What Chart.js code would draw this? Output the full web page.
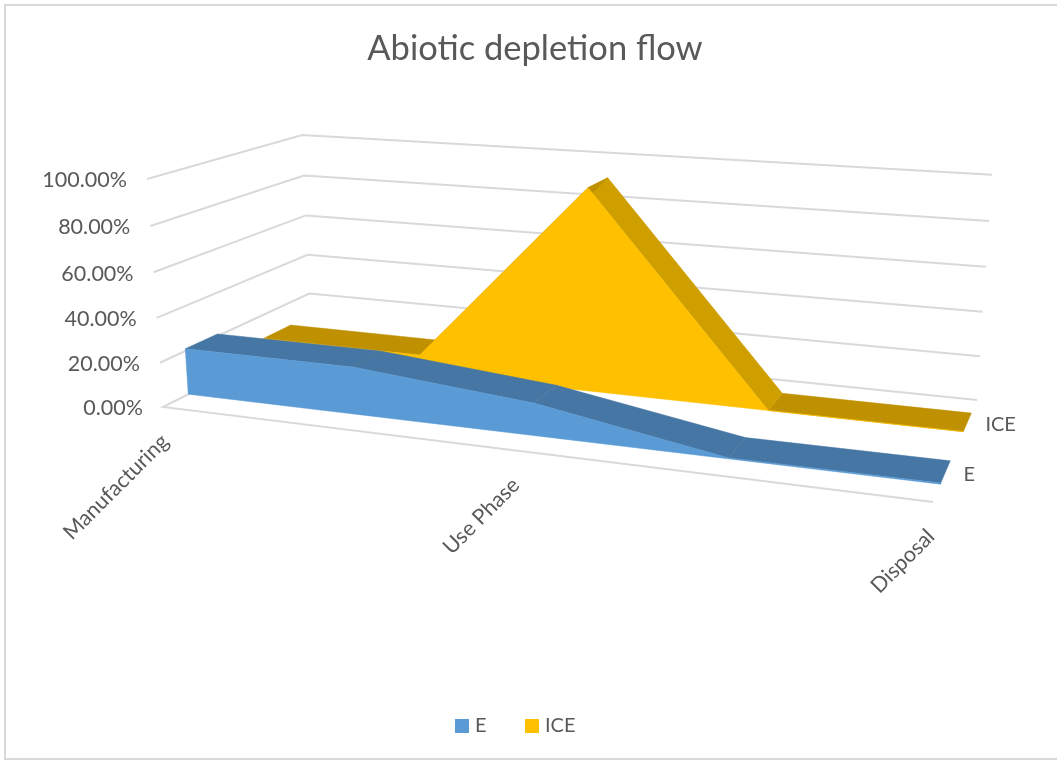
<!DOCTYPE html>
<html>
<head>
  <script src="https://cdn.jsdelivr.net/npm/chart.js"></script>
  <style>
    html, body { margin: 0; background: #fff; overflow: hidden; }
    canvas { display: block; }
  </style>
</head>
<body>
<canvas id="flowChart" width="1057" height="760"></canvas>
<script>
const title = 'Abiotic depletion flow';
const categories = ['Manufacturing', '', 'Use Phase', '', 'Disposal'];
const valueTicks = [0, 20, 40, 60, 80, 100];
const eValues = [21, 21, 14, 0.4, 0.5];
const iceValues = [8.6, 8.5, 92, 0, 0];

const textColor = '#595959';
const gridColor = '#D9D9D9';
const fontFamily = 'Lato, "Open Sans", sans-serif';

// back to front, so ICE is painted before E
const series = [
  { name: 'ICE', values: iceValues, depth: [0.65, 0.85], face: '#FFC000',
    ribbon: ['#BF9000', '#BF9000', '#CF9F00', '#BF9000'] },
  { name: 'E', values: eValues, depth: [0.15, 0.35], face: '#5B9BD5',
    ribbon: ['#4676A3', '#4676A3', '#4676A3', '#4676A3'] }
];

// perspective of the 3D box: u along categories, d into the depth, v up (all 0..1)
function project(u, d, v) {
  const w = 1 - 0.1538 * u + 0.1663 * d - 0.0369 * v;
  return {
    x: (163 + 626.5 * u + 199.7 * d - 21.4 * v) / w,
    y: (407 + 17.8 * u - 19.8 * d - 234.6 * v) / w
  };
}

const catPos = i => i / (categories.length - 1);
const polyDataset = (points, extra) => ({
  data: points,
  showLine: true,
  tension: 0,
  pointRadius: 0,
  clip: false,
  ...extra
});

const datasets = [];

// wall gridlines, the zero level also carries the front floor edge
valueTicks.forEach(t => {
  const v = t / 100;
  const pts = [project(0, 0, v), project(0, 1, v), project(1, 1, v)];
  if (t === 0) pts.unshift(project(1, 0, 0));
  datasets.push(polyDataset(pts, { borderColor: gridColor, borderWidth: 2, fill: false }));
});

series.forEach(s => {
  const [front, back] = s.depth;
  // top ribbon, one quad per segment
  for (let i = s.values.length - 2; i >= 0; i--) {
    const a = s.values[i] / 100, b = s.values[i + 1] / 100;
    const quad = [
      project(catPos(i), front, a),
      project(catPos(i + 1), front, b),
      project(catPos(i + 1), back, b),
      project(catPos(i), back, a)
    ];
    quad.push(quad[0]);
    datasets.push(polyDataset(quad, {
      borderColor: s.ribbon[i], borderWidth: 0.5, backgroundColor: s.ribbon[i], fill: 'shape'
    }));
  }
  // front face down to the floor
  const outline = s.values.map((val, i) => project(catPos(i), front, val / 100));
  outline.push(project(1, front, 0), project(0, front, 0), outline[0]);
  datasets.push(polyDataset(outline, {
    borderColor: s.face, borderWidth: 0.5, backgroundColor: s.face, fill: 'shape'
  }));
});

// first dataset is painted last by default, so count the order downwards
datasets.forEach((ds, i) => { ds.order = -i; });

const chartText = {
  id: 'chartText',
  beforeDraw(chart) {
    const ctx = chart.ctx;
    ctx.save();
    ctx.strokeStyle = gridColor;
    ctx.lineWidth = 2;
    ctx.strokeRect(5, 5, 1100, 754);
    ctx.restore();
  },
  afterDraw(chart) {
    const { ctx, scales: { x, y } } = chart;
    const px = p => ({ x: x.getPixelForValue(p.x), y: y.getPixelForValue(p.y) });
    ctx.save();
    ctx.fillStyle = textColor;
    ctx.textBaseline = 'middle';

    ctx.font = '34.5px ' + fontFamily;
    ctx.textAlign = 'center';
    ctx.fillText(title, 535, 49);

    ctx.font = '21.5px ' + fontFamily;
    ctx.textAlign = 'right';
    valueTicks.forEach(t => {
      const p = px(project(0, 0, t / 100));
      ctx.fillText(t.toFixed(2) + '%', p.x - 20, p.y + 1.5);
    });

    categories.forEach((c, i) => {
      if (!c) return;
      const p = px(project(catPos(i), 0, 0));
      ctx.save();
      ctx.translate(p.x + 2 - 4 * catPos(i), p.y + 31);
      ctx.rotate(-Math.PI / 4);
      ctx.fillText(c, 0, 0);
      ctx.restore();
    });

    // series names beside the right floor edge
    ctx.font = '20px ' + fontFamily;
    ctx.textAlign = 'left';
    series.forEach(s => {
      const p = px(project(1, (s.depth[0] + s.depth[1]) / 2, 0));
      ctx.fillText(s.name, p.x + 18, p.y + 2);
    });

    // legend
    [[series[1], 455], [series[0], 525]].forEach(([s, left]) => {
      ctx.fillStyle = s.face;
      ctx.fillRect(left, 719, 14, 14);
      ctx.fillStyle = textColor;
      ctx.fillText(s.name, left + 20, 726);
    });
    ctx.restore();
  }
};

new Chart(document.getElementById('flowChart').getContext('2d'), {
  type: 'scatter',
  data: { datasets: datasets },
  options: {
    responsive: false,
    animation: false,
    layout: { padding: 0 },
    scales: {
      x: { type: 'linear', display: false, min: 0, max: 1057 },
      y: { type: 'linear', display: false, min: 0, max: 760, reverse: true }
    },
    plugins: {
      legend: { display: false },
      tooltip: { enabled: false }
    }
  },
  plugins: [chartText]
});
</script>
</body>
</html>
